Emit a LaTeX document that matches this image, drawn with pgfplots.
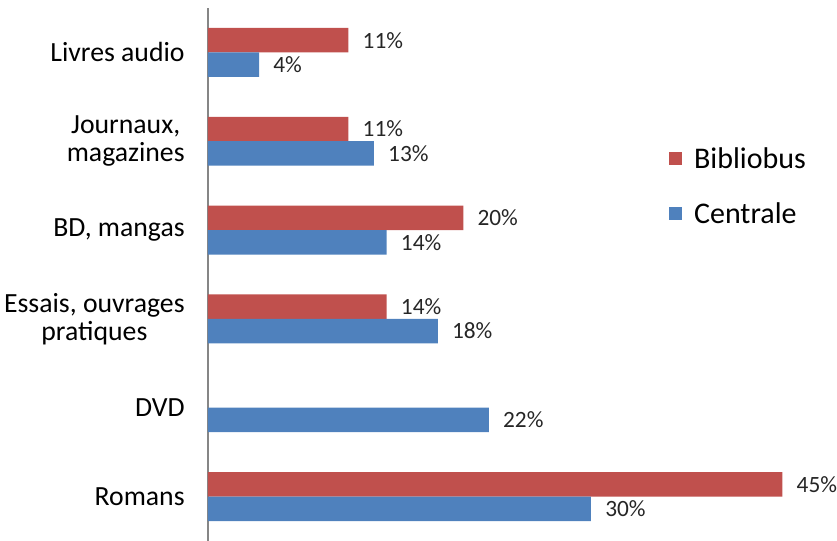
\documentclass[border=0pt]{standalone}
\usepackage{pgfplots}
\pgfplotsset{compat=1.18}
\usepackage{fontspec}
\setmainfont{Carlito}
\definecolor{cred}{HTML}{C0504D}
\definecolor{cblue}{HTML}{4F81BD}
\definecolor{axgray}{HTML}{868686}
\begin{document}
\begin{tikzpicture}
\begin{axis}[
  name=ax,
  scale only axis,
  width=450pt, height=399.75pt,
  xbar, xmin=0, xmax=47,
  ymin=-0.5, ymax=5.5,
  axis x line=none,
  axis y line=left,
  axis line style={-, draw=axgray, line width=1.1pt},
  ytick={0,1,2,3,4,5},
  yticklabels={Romans, DVD, {Essais, ouvrages\\pratiques}, {BD, mangas}, {Journaux,\\magazines}, Livres audio},
  yticklabel style={align=center, font=\fontsize{20.8}{21}\selectfont, xshift=-14pt},
  major tick length=0pt,
  xtick=\empty,
  bar width=0.275,
  clip=false,
  point meta=x,
  nodes near coords={\pgfmathprintnumber[assume math mode=true]{\pgfplotspointmeta}\%},
  nodes near coords style={anchor=west, inner xsep=0pt, xshift=10.5pt, font=\fontsize{17.5}{17.5}\selectfont, text=black!85},
  legend style={at={(0.768,0.744)}, anchor=north west, draw=none, fill=none,
    font=\fontsize{22.5}{22.5}\selectfont, row sep=20pt, inner sep=0pt,
    /tikz/every even column/.append style={column sep=0pt}},
  legend cell align=left,
  legend image code/.code={\fill[#1] (0pt,-4.9pt) rectangle (9.75pt,4.85pt);},
]
\addplot[fill=cred, draw=none, bar shift=0.1375] coordinates {(45,0) (14,2) (20,3) (11,4) (11,5)};
\addplot[fill=cblue, draw=none, bar shift=-0.1375] coordinates {(30,0) (22,1) (18,2) (14,3) (13,4) (4,5)};
\legend{\hspace{7pt}Bibliobus, \hspace{7pt}Centrale}
\end{axis}
\pgfresetboundingbox
\path ([xshift=-156pt]ax.south west) rectangle ([xshift=471.75pt, yshift=405.75pt]ax.south west);
\end{tikzpicture}
\end{document}
